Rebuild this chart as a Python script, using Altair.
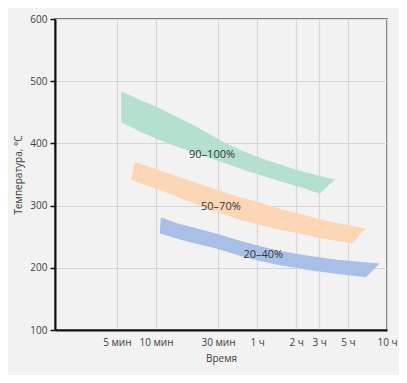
import altair as alt
import pandas as pd

# Band edges (time in minutes, temperature in °C)
green_upper_t = [5.4, 7.5, 10.7, 15, 20, 31, 45, 63, 90, 128, 180, 238]
green_upper_T = [484, 470, 456, 441, 428, 405, 389, 377, 366, 356, 348, 342]
green_lower_t = [5.4, 7.5, 10.7, 15, 20, 31, 45, 63, 90, 128, 182]
green_lower_T = [434, 419, 405, 394, 385, 371, 359, 349, 339, 330, 319]

orange_upper_t = [6.9, 10.7, 15, 20, 31, 45, 63, 90, 128, 180, 250, 411]
orange_upper_T = [370, 357, 346, 337, 324, 313, 305, 295, 287, 279, 272, 263]
orange_lower_t = [6.4, 10.7, 15, 20, 31, 45, 63, 90, 128, 180, 250, 324]
orange_lower_T = [341, 325, 313, 303, 288, 277, 269, 261, 255, 248, 243, 239]

blue_upper_t = [10.9, 15, 20, 29, 45, 63, 90, 153, 250, 400, 526]
blue_upper_T = [281, 271, 264, 255, 243, 235, 227, 219, 213, 209, 207]
blue_lower_t = [10.7, 15, 20, 29, 45, 63, 90, 153, 250, 413]
blue_lower_T = [255, 246, 239, 231, 219, 211, 204, 196, 190, 185]

band_names = ["90–100%", "50–70%", "20–40%"]
band_colors = ["#b3e0cf", "#fdd6b5", "#a8c0e8"]
label_t = [27, 31.6, 67]
label_T = [381, 297, 220]

x_ticks = [5, 10, 30, 60, 120, 180, 300, 600]
x_tick_labels = ["5 мин", "10 мин", "30 мин", "1 ч", "2 ч", "3 ч", "5 ч", "10 ч"]
y_ticks = [100, 200, 300, 400, 500, 600]

FONT = "Open Sans"

rows = []
edges = [
    (green_upper_t, green_upper_T, green_lower_t, green_lower_T),
    (orange_upper_t, orange_upper_T, orange_lower_t, orange_lower_T),
    (blue_upper_t, blue_upper_T, blue_lower_t, blue_lower_T),
]
for name, (ut, uT, lt, lT) in zip(band_names, edges):
    pts = list(zip(ut, uT)) + list(zip(reversed(lt), reversed(lT))) + [(ut[0], uT[0])]
    for k, (t, T) in enumerate(pts):
        rows.append({"band": name, "t": t, "T": T, "o": k})
df = pd.DataFrame(rows)

lab = pd.DataFrame({"band": band_names, "t": label_t, "T": label_T})

expr_parts = " : ".join(
    f"datum.value == {v} ? '{s}'" for v, s in zip(x_ticks, x_tick_labels)
) + " : ''"

x_scale = alt.Scale(type="log", domain=[1.67, 600])
y_scale = alt.Scale(domain=[100, 600])

color_scale = alt.Scale(domain=band_names, range=band_colors)

bands = alt.Chart(df).mark_line(filled=True, strokeWidth=0.5, interpolate="linear").encode(
    x=alt.X("t:Q", scale=x_scale,
            axis=alt.Axis(values=x_ticks, labelExpr=expr_parts, title="Время",
                          ticks=False, labelPadding=7, titlePadding=6,
                          grid=True, domainColor="#111", domainWidth=2,
                          labelFlush=False)),
    y=alt.Y("T:Q", scale=y_scale,
            axis=alt.Axis(values=y_ticks, title="Температура, °С",
                          ticks=True, tickSize=5, tickColor="#111", tickWidth=1.5,
                          labelPadding=3, titlePadding=6, grid=True,
                          domainColor="#111", domainWidth=2)),
    color=alt.Color("band:N", scale=color_scale, legend=None),
    fill=alt.Fill("band:N", scale=color_scale, legend=None),
    detail="band:N",
    order="o:Q",
)

texts = alt.Chart(lab).mark_text(font=FONT, fontSize=11, color="#333333").encode(
    x=alt.X("t:Q", scale=x_scale),
    y=alt.Y("T:Q", scale=y_scale),
    text="band:N",
)

chart = (bands + texts).properties(
    width=332, height=311,
    background="#f2f2f2",
    padding={"left": 47, "top": 11, "right": 12, "bottom": 45},
    autosize=alt.AutoSizeParams(type="none"),
).configure_view(
    stroke="#555555", strokeWidth=1.5
).configure_axis(
    labelFont=FONT, titleFont=FONT, labelFontSize=10, titleFontSize=10,
    labelColor="#404040", titleColor="#404040", titleFontWeight="normal",
    gridColor="#d6d6d6", gridWidth=1.2,
)

chart.save("out.html", embed_options={"renderer": "svg", "actions": False})
